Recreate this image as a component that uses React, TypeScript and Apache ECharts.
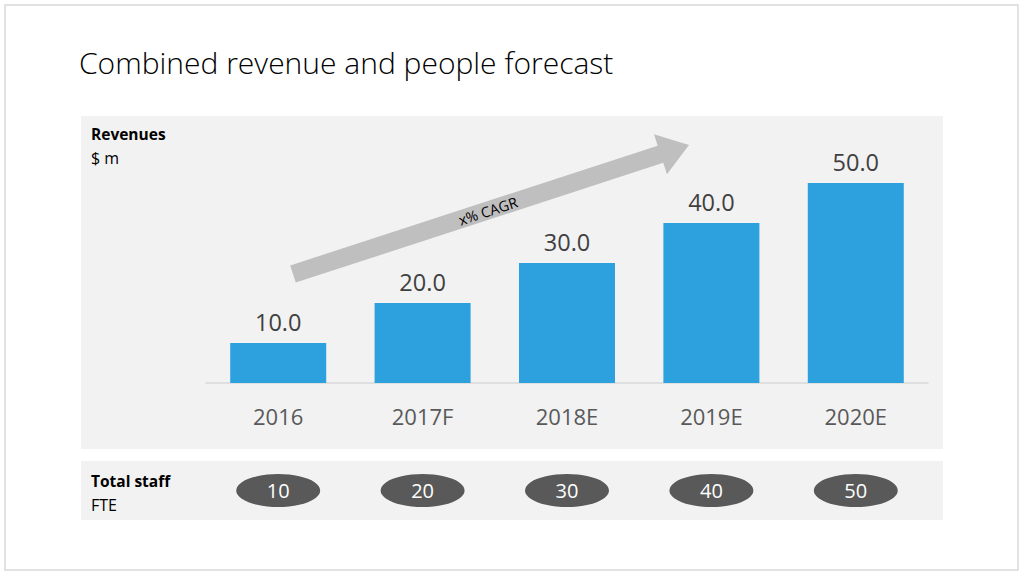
import React, { useEffect, useRef } from "react";
import * as echarts from "echarts";

const categories = ["2016", "2017F", "2018E", "2019E", "2020E"];
const revenues = [10.0, 20.0, 30.0, 40.0, 50.0];
const staff = [10, 20, 30, 40, 50];

const TITLE = "Combined revenue and people forecast";

export default function App() {
  const ref = useRef<HTMLDivElement>(null);
  useEffect(() => {
    if (!ref.current) return;
    const chart = echarts.init(ref.current, undefined, { renderer: "svg" });

    // arrow geometry (decoration)
    const x0 = 293, y0 = 274, x1 = 689, y1 = 145;
    const ang = Math.atan2(y1 - y0, x1 - x0);
    const len = Math.hypot(x1 - x0, y1 - y0);
    const hw = 9, headLen = 30, headHw = 21;
    const ux = Math.cos(ang), uy = Math.sin(ang);
    const nx = -uy, ny = ux;
    const p = (d: number, w: number) => [x0 + ux * d + nx * w, y0 + uy * d + ny * w];
    const arrowPts = [
      p(0, -hw), p(len - headLen, -hw), p(len - headLen, -headHw), p(len, 0),
      p(len - headLen, headHw), p(len - headLen, hw), p(0, hw),
    ];

    chart.setOption({
      animation: false,
      backgroundColor: "#ffffff",
      graphic: [
        { type: "rect", shape: { x: 5, y: 5, width: 1013, height: 565 }, style: { fill: "none", stroke: "#d9d9d9", lineWidth: 1.5 }, z: -10 },
        { type: "rect", shape: { x: 81, y: 116, width: 862, height: 333 }, style: { fill: "#f2f2f2" }, z: -10 },
        { type: "rect", shape: { x: 81, y: 461, width: 862, height: 59 }, style: { fill: "#f2f2f2" }, z: -10 },
        { type: "text", x: 79, y: 62, style: { text: TITLE, fontFamily: "Open Sans", fontWeight: 300, fontSize: 30, fill: "#000000", verticalAlign: "middle" } },
        { type: "text", x: 91, y: 134, style: { text: "Revenues", fontFamily: "Open Sans", fontWeight: "bold", fontSize: 15.5, fill: "#000000", verticalAlign: "middle" } },
        { type: "text", x: 91, y: 158, style: { text: "$ m", fontFamily: "Open Sans", fontSize: 16, fill: "#000000", verticalAlign: "middle" } },
        { type: "text", x: 91, y: 481, style: { text: "Total staff", fontFamily: "Open Sans", fontWeight: "bold", fontSize: 15.5, fill: "#000000", verticalAlign: "middle" } },
        { type: "text", x: 91, y: 505, style: { text: "FTE", fontFamily: "Open Sans", fontSize: 16, fill: "#000000", verticalAlign: "middle" } },
        { type: "polygon", shape: { points: arrowPts }, style: { fill: "#bfbfbf" }, z: 5 },
        {
          type: "text", x: 488, y: 211, rotation: -ang, z: 6,
          style: { text: "x% CAGR", fontFamily: "Open Sans", fontSize: 14.5, fill: "#000000", align: "center", verticalAlign: "middle" },
        },
      ],
      grid: [
        { left: 206, width: 722, top: 183, height: 200 },
        { left: 206, width: 722, top: 461, height: 59 },
      ],
      xAxis: [
        {
          gridIndex: 0, type: "category", data: categories,
          axisLine: { lineStyle: { color: "#d9d9d9", width: 1.5 } },
          axisTick: { show: false },
          axisLabel: { color: "#595959", fontSize: 22, fontFamily: "Open Sans", margin: 22 },
        },
        { gridIndex: 1, type: "category", data: categories, show: false },
      ],
      yAxis: [
        { gridIndex: 0, type: "value", min: 0, max: 50, show: false, splitLine: { show: false } },
        { gridIndex: 1, type: "value", min: 0, max: 1, show: false, splitLine: { show: false } },
      ],
      series: [
        {
          type: "bar", xAxisIndex: 0, yAxisIndex: 0, data: revenues, barWidth: 96,
          itemStyle: { color: "#2ca1dd" },
          label: {
            show: true, position: "top", distance: 9, color: "#404040", fontSize: 23.5, fontFamily: "Open Sans",
            formatter: (p: any) => Number(p.value).toFixed(1),
          },
        },
        {
          type: "scatter", xAxisIndex: 1, yAxisIndex: 1,
          data: staff.map((v, i) => ({ value: [i, 0.5], name: String(v) })),
          symbol: "circle", symbolSize: [84, 33],
          itemStyle: { color: "#595959", opacity: 1 },
          label: { show: true, position: "inside", color: "#ffffff", fontSize: 20, fontFamily: "Open Sans", formatter: (p: any) => p.name },
        },
      ],
    });
    return () => chart.dispose();
  }, []);
  return <div ref={ref} style={{ position: "fixed", left: 0, top: 0, width: 1024, height: 576 }} />;
}
